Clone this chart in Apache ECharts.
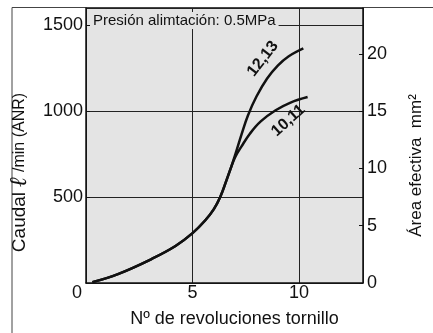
<!DOCTYPE html>
<html>
<head>
<meta charset="utf-8">
<script src="https://cdn.jsdelivr.net/npm/echarts@6/dist/echarts.min.js"></script>
<style>
  html, body { margin: 0; padding: 0; background: #fff; }
  #chart { width: 433px; height: 333px; }
</style>
</head>
<body>
<div id="chart"></div>
<script>
'use strict';

// shared part of the curve (both screw sizes)
var trunkRevs = [0.3, 1.5, 3.1, 4.2, 5.0, 5.6, 6.0, 6.3, 6.6, 6.8];
var trunkFlow = [5, 52, 141, 215, 290, 365, 430, 500, 600, 670];
// 12,13
var upperRevs = [7.0, 7.3, 7.6, 8.0, 8.5, 9.0, 9.5, 10.2];
var upperFlow = [745, 865, 975, 1085, 1190, 1265, 1318, 1365];
// 10,11
var lowerRevs = [7.0, 7.3, 7.7, 8.2, 8.9, 9.6, 10.4];
var lowerFlow = [732, 795, 870, 940, 1005, 1050, 1082];

var flowTicks = [0, 500, 1000, 1500];
var areaTicks = [0, 5, 10, 15, 20];
var revTicks = [0, 5, 10];

function pairs(xs, ys) {
    var out = [];
    for (var i = 0; i < xs.length; i++) {
        out.push([xs[i], ys[i]]);
    }
    return out;
}

var data1213 = pairs(trunkRevs, trunkFlow).concat(pairs(upperRevs, upperFlow));
var data1011 = pairs(trunkRevs, trunkFlow).concat(pairs(lowerRevs, lowerFlow));

var ink = '#111';
var plotBg = '#e4e4e4';
var labelFont = 'Liberation Sans, Arial, sans-serif';

function curveLabel(name, coord, angle) {
    return {
        symbol: 'rect',
        symbolSize: 1,
        itemStyle: { color: 'rgba(0,0,0,0)' },
        data: [{ name: name, coord: coord }],
        label: {
            show: true,
            position: 'inside',
            formatter: '{b}',
            rotate: angle,
            color: ink,
            fontFamily: labelFont,
            fontWeight: 'bold',
            fontSize: 16
        }
    };
}

var option = {
    animation: false,
    backgroundColor: '#fff',
    title: {
        text: 'Presión alimtación: 0.5MPa',
        left: 90,
        top: 12,
        padding: [1, 3],
        backgroundColor: plotBg,
        textStyle: {
            color: ink,
            fontFamily: labelFont,
            fontWeight: 'normal',
            fontSize: 15
        }
    },
    grid: {
        left: 86,
        right: 66,
        top: 8,
        bottom: 47,
        show: true,
        backgroundColor: plotBg,
        borderWidth: 0
    },
    graphic: [{
        type: 'polyline',
        silent: true,
        shape: { points: [[12, 333], [12, 7.5], [433, 7.5]] },
        style: { stroke: '#444', lineWidth: 1, fill: null }
    }],
    xAxis: {
        type: 'value',
        min: 0,
        max: 13,
        interval: 5,
        name: 'Nº de revoluciones tornillo',
        nameLocation: 'middle',
        nameGap: 27,
        nameTextStyle: {
            color: ink,
            fontFamily: labelFont,
            fontSize: 18,
            padding: [0, 0, 0, 20]
        },
        axisLine: { lineStyle: { color: ink, width: 1.5 } },
        axisTick: { show: false },
        splitLine: { lineStyle: { color: '#222', width: 1 } },
        axisLabel: {
            showMaxLabel: false,
            margin: 1,
            color: ink,
            fontFamily: labelFont,
            fontSize: 18,
            formatter: function (v) {
                if (revTicks.indexOf(v) < 0) return '';
                return v === 0 ? '{z|0}' : String(v);
            },
            rich: { z: { fontSize: 18, fontFamily: labelFont, color: ink, padding: [0, 18, 0, 0] } }
        }
    },
    yAxis: [{
        type: 'value',
        min: 0,
        max: 1600,
        interval: 500,
        position: 'left',
        name: '{a|Caudal }{b|ℓ}{c| /min (ANR)}',
        nameLocation: 'middle',
        nameRotate: 90,
        nameGap: 52,
        nameTextStyle: {
            padding: [0, 54, 0, 0],
            rich: {
                a: { fontSize: 19, fontFamily: labelFont, color: ink },
                b: { fontSize: 24, fontFamily: 'DejaVu Serif, serif', fontStyle: 'italic', fontWeight: 'bold', color: ink },
                c: { fontSize: 16, fontFamily: labelFont, color: ink }
            }
        },
        axisLine: { show: true, lineStyle: { color: ink, width: 1.5 } },
        axisTick: { show: true, inside: true, length: 4, lineStyle: { color: ink } },
        splitLine: { lineStyle: { color: '#222', width: 1 } },
        axisLabel: {
            showMaxLabel: false,
            margin: 3,
            color: ink,
            fontFamily: labelFont,
            fontSize: 18,
            formatter: function (v) {
                return (v === 0 || flowTicks.indexOf(v) < 0) ? '' : String(v);
            }
        }
    }, {
        type: 'value',
        min: 0,
        max: 24,
        interval: 5,
        position: 'right',
        name: 'Área efectiva  mm²',
        nameLocation: 'middle',
        nameRotate: 90,
        nameGap: 45,
        nameTextStyle: {
            color: ink,
            fontFamily: labelFont,
            fontSize: 17,
            padding: [0, 40, 0, 0]
        },
        axisLine: { show: true, lineStyle: { color: ink, width: 1.5 } },
        axisTick: { show: true, inside: true, length: 4, lineStyle: { color: ink } },
        splitLine: { show: false },
        axisLabel: {
            showMaxLabel: false,
            margin: 4,
            color: ink,
            fontFamily: labelFont,
            fontSize: 18,
            formatter: function (v) {
                return areaTicks.indexOf(v) < 0 ? '' : String(v);
            }
        }
    }],
    series: [{
        name: '12,13',
        type: 'line',
        smooth: 0.4,
        symbol: 'none',
        lineStyle: { color: ink, width: 2.5 },
        data: data1213,
        markPoint: curveLabel('12,13', [8.3, 1305], 52)
    }, {
        name: '10,11',
        type: 'line',
        smooth: 0.4,
        symbol: 'none',
        lineStyle: { color: ink, width: 2.5 },
        data: data1011,
        markPoint: curveLabel('10,11', [9.5, 945], 42)
    }]
};

echarts.init(document.getElementById('chart')).setOption(option);
</script>
</body>
</html>
